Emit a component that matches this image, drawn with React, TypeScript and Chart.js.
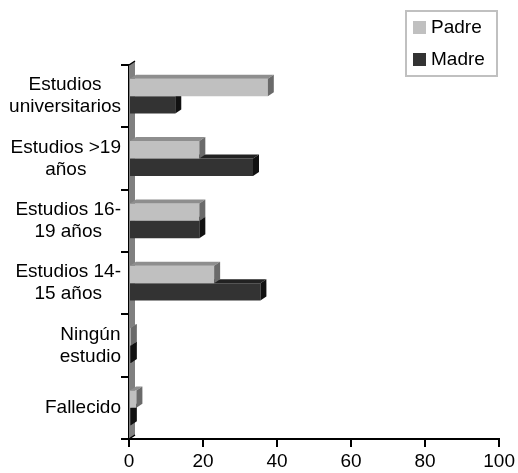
import { useEffect, useRef } from 'react';
import { Chart, registerables } from 'chart.js';

Chart.register(...registerables);

const categories: string[][] = [
  ['Estudios', 'universitarios'],
  ['Estudios >19', 'años'],
  ['Estudios 16-', '19 años'],
  ['Estudios 14-', '15 años'],
  ['Ningún', 'estudio'],
  ['Fallecido'],
];
const seriesNames = ['Padre', 'Madre'];
const padre = [37.5, 19, 19, 23, 0.5, 2];
const madre = [12.5, 33.5, 19, 35.5, 0.5, 0.5];
const xMin = 0;
const xMax = 100;
const xStep = 20;

const FONT = '"Liberation Sans", Arial, sans-serif';
const FS = 19;
const front = ['#c0c0c0', '#333333'];
const topFace = ['#8e8e8e', '#222222'];
const sideFace = ['#6a6a6a', '#111111'];
const DX = 6;
const DY = 4;

const wallPlugin = {
  id: 'wall3d',
  beforeDatasetsDraw(chart: any) {
    const { ctx, chartArea } = chart;
    const { left, top, bottom } = chartArea;
    ctx.save();
    ctx.fillStyle = '#808080';
    ctx.beginPath();
    ctx.moveTo(left, top);
    ctx.lineTo(left + DX, top - DY);
    ctx.lineTo(left + DX, bottom - DY);
    ctx.lineTo(left, bottom);
    ctx.closePath();
    ctx.fill();
    ctx.strokeStyle = '#000';
    ctx.lineWidth = 1.5;
    ctx.beginPath();
    ctx.moveTo(left, top);
    ctx.lineTo(left + DX, top - DY);
    ctx.moveTo(left, bottom);
    ctx.lineTo(left + DX, bottom - DY);
    ctx.stroke();
    ctx.restore();
  },
};

const depthPlugin = {
  id: 'depth3d',
  afterDatasetDraw(chart: any, args: any) {
    const { ctx } = chart;
    const i = args.index;
    ctx.save();
    args.meta.data.forEach((el: any) => {
      const p = el.getProps(['x', 'y', 'base', 'height'], true);
      const l = Math.min(p.base, p.x);
      const r = Math.max(p.base, p.x);
      const t = p.y - p.height / 2;
      const b = p.y + p.height / 2;
      ctx.fillStyle = topFace[i];
      ctx.beginPath();
      ctx.moveTo(l, t);
      ctx.lineTo(r, t);
      ctx.lineTo(r + DX, t - DY);
      ctx.lineTo(l + DX, t - DY);
      ctx.closePath();
      ctx.fill();
      ctx.fillStyle = sideFace[i];
      ctx.beginPath();
      ctx.moveTo(r, t);
      ctx.lineTo(r + DX, t - DY);
      ctx.lineTo(r + DX, b - DY);
      ctx.lineTo(r, b);
      ctx.closePath();
      ctx.fill();
    });
    ctx.restore();
  },
};

const labelsPlugin = {
  id: 'yLabels',
  afterDraw(chart: any) {
    const { ctx } = chart;
    const y = chart.scales.y;
    const rightEdge = 121;
    const lh = 22;
    ctx.save();
    ctx.font = `${FS}px ${FONT}`;
    ctx.fillStyle = '#000';
    ctx.textAlign = 'center';
    ctx.textBaseline = 'middle';
    categories.forEach((lines, idx) => {
      const cy = y.getPixelForValue(idx);
      const w = Math.max(...lines.map((s) => ctx.measureText(s).width));
      const cx = rightEdge - w / 2;
      const y0 = cy - ((lines.length - 1) * lh) / 2;
      lines.forEach((s, k) => ctx.fillText(s, cx, y0 + k * lh));
    });
    ctx.restore();
  },
};

const legendPlugin = {
  id: 'boxLegend',
  afterDraw(chart: any) {
    const { ctx } = chart;
    ctx.save();
    ctx.strokeStyle = '#c0c0c0';
    ctx.lineWidth = 2;
    ctx.strokeRect(406, 11, 91, 65);
    ctx.font = `${FS}px ${FONT}`;
    ctx.textBaseline = 'middle';
    ctx.textAlign = 'left';
    seriesNames.forEach((name, k) => {
      const cy = 27 + k * 32;
      ctx.fillStyle = front[k];
      ctx.fillRect(413, cy - 6, 13, 13);
      ctx.fillStyle = '#000';
      ctx.fillText(name, 431, cy + 1);
    });
    ctx.restore();
  },
};

export default function App() {
  const ref = useRef<HTMLCanvasElement | null>(null);
  useEffect(() => {
    if (!ref.current) return;
    const chart = new Chart(ref.current, {
      type: 'bar',
      data: {
        labels: categories.map((c) => c.join(' ')),
        datasets: [
          { label: seriesNames[0], data: padre, backgroundColor: front[0], borderWidth: 0 },
          { label: seriesNames[1], data: madre, backgroundColor: front[1], borderWidth: 0 },
        ],
      },
      options: {
        indexAxis: 'y',
        responsive: false,
        animation: false,
        datasets: { bar: { categoryPercentage: 0.56, barPercentage: 1 } },
        layout: { padding: { top: 65, right: 18, left: 0, bottom: 0 } },
        plugins: { legend: { display: false }, tooltip: { enabled: false } },
        scales: {
          x: {
            min: xMin,
            max: xMax,
            afterFit: (s: any) => { s.height = 34; },
            ticks: { stepSize: xStep, color: '#000', font: { size: FS, family: FONT }, padding: 3 },
            grid: { drawOnChartArea: false, drawTicks: true, tickLength: 8, color: '#000', lineWidth: 2 },
            border: { display: true, color: '#000', width: 2 },
          },
          y: {
            z: 1,
            afterFit: (s: any) => { s.width = 129; },
            ticks: { display: false },
            grid: { drawOnChartArea: false, drawTicks: true, tickLength: 8, color: '#000', lineWidth: 2, offset: true },
            border: { display: true, color: '#000', width: 2 },
          },
        },
      },
      plugins: [wallPlugin, depthPlugin, labelsPlugin, legendPlugin],
    } as any);
    return () => chart.destroy();
  }, []);
  return (
    <div style={{ position: 'fixed', left: 0, top: 0, width: 518, height: 473, background: '#fff' }}>
      <canvas ref={ref} width={518} height={473} />
    </div>
  );
}
